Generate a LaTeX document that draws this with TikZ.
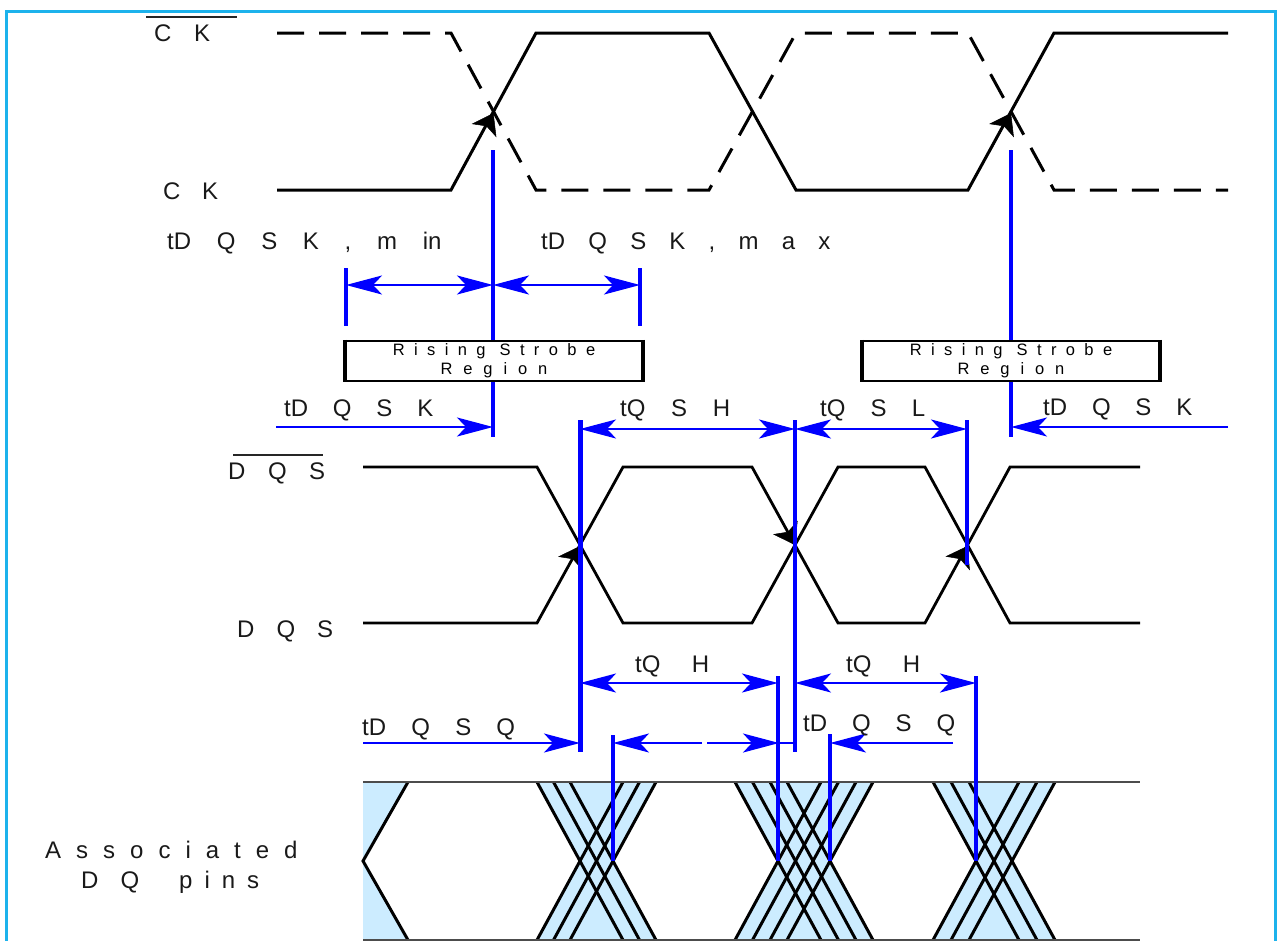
\documentclass[tikz,border=0pt]{standalone}
\usepackage{fontspec}
\setmainfont{Liberation Sans}
\usetikzlibrary{arrows.meta}
\definecolor{framecol}{RGB}{28,178,236}
\definecolor{dqfill}{RGB}{204,236,255}
\definecolor{mblue}{RGB}{0,0,255}
\newcommand{\lsp}[2]{{\spaceskip=#1pt\relax #2}}
\tikzset{
  lbl/.style={inner sep=0pt, anchor=base west, text=black!90, font=\fontsize{24}{28}\selectfont},
  sig/.style={line width=3pt, black, line join=miter, miter limit=10},
  sigdash/.style={sig, dash pattern=on 27pt off 15pt},
  bluebar/.style={mblue, line width=4pt},
  bluedim/.style={mblue, line width=2.3pt, {Stealth[length=36pt,width=19pt,inset=9pt]}-{Stealth[length=36pt,width=19pt,inset=9pt]}},
  blueto/.style={mblue, line width=2.3pt, -{Stealth[length=36pt,width=19pt,inset=9pt]}},
  edgetip/.style={black, line width=0.5pt, -{Stealth[length=20pt,width=28pt,inset=5pt]}},
  xline/.style={line width=3pt, black},
  rail/.style={line width=2.2pt, black!70},
  strobe/.style={draw=black, fill=white, line width=2.2pt, minimum width=296pt, minimum height=40pt, inner sep=0pt, align=center,
    font=\fontsize{16.5}{19}\selectfont},
}
\begin{document}
\begin{tikzpicture}[x=1pt,y=-1pt]
\useasboundingbox (0,0) rectangle (1279,940);
% frame
\draw[framecol, line width=3pt] (6,11) rectangle (1275,960);

% ---------------- CK ----------------
\draw[sig] (277,190) -- (451,190) -- (536,33) -- (709,33) -- (796,190) -- (968,190) -- (1054,33) -- (1228,33);
\draw[sigdash] (277,33) -- (451,33) -- (536,190) -- (709,190) -- (796,33) -- (968,33) -- (1054,190) -- (1228,190);
\coordinate (ckx1) at (493.5,113);
\coordinate (ckx3) at (1011,113);
\coordinate (cke1) at (472.5,152);
\coordinate (cke3) at (990,152);
\draw[edgetip] (cke1) -- (ckx1);
\draw[edgetip] (cke3) -- (ckx3);

% ---------------- DQS ----------------
\draw[sig, line width=2.8pt] (363,467) -- (537,467) -- (623,623) -- (752,623) -- (838,467) -- (925,467) -- (1010,623) -- (1140,623);
\draw[sig, line width=2.8pt] (363,623) -- (537,623) -- (623,467) -- (752,467) -- (838,623) -- (925,623) -- (1010,467) -- (1140,467);
\coordinate (dx1) at (580,546);
\coordinate (dx2) at (795,545);
\coordinate (dx3) at (967.5,546);
\coordinate (de1) at (559,584);
\coordinate (de2) at (773.5,506);
\coordinate (de3) at (946,584);
\draw[edgetip] (de1) -- (dx1);
\draw[edgetip] (de2) -- (dx2);
\draw[edgetip] (de3) -- (dx3);

% ---------------- DQ pins ----------------
\fill[dqfill] (363,782) rectangle (1140,940);
\fill[white] (408,782) -- (537,782) -- (580,861) -- (537,940) -- (408,940) -- (363,861) -- cycle;
\fill[white] (657,782) -- (735,782) -- (778,861) -- (735,940) -- (657,940) -- (613.5,861) -- cycle;
\fill[white] (873,782) -- (933,782) -- (976,861) -- (933,940) -- (873,940) -- (830,861) -- cycle;
\fill[white] (1055,782) -- (1140,782) -- (1140,940) -- (1055,940) -- (1012,861) -- cycle;
\draw[xline] (408,782) -- (363,861) -- (408,940);
\foreach \a in {537,553.5,570, 735,752.5,770,787, 933,951,969} {
  \draw[xline] (\a,782) -- (\a+86,940);
  \draw[xline] (\a,940) -- (\a+86,782);
}
\draw[rail] (363,782) -- (1140,782);
\draw[rail] (363,940) -- (1140,940);

% ---------------- blue timing ----------------
\coordinate (vA1) at (493,150); \coordinate (vA2) at (493,437);
\coordinate (vB1) at (1011,150); \coordinate (vB2) at (1011,437);
\draw[bluebar] (vA1) -- (vA2);
\draw[bluebar] (vB1) -- (vB2);
\coordinate (bL1) at (346,268); \coordinate (bL2) at (346,326);
\coordinate (bR1) at (640,268); \coordinate (bR2) at (640,326);
\draw[bluebar] (bL1) -- (bL2);
\draw[bluebar] (bR1) -- (bR2);
\coordinate (mnL) at (346,285); \coordinate (mnM) at (493,285); \coordinate (mxR) at (640,285);
\draw[bluedim] (mnL) -- (mnM);
\draw[bluedim] (mnM) -- (mxR);
\coordinate (kL) at (276,427); \coordinate (kLe) at (493,427);
\coordinate (kR) at (1228,427); \coordinate (kRe) at (1011,427);
\draw[blueto] (kL) -- (kLe);
\draw[blueto] (kR) -- (kRe);

\coordinate (v580a) at (580,420); \coordinate (v580b) at (580,752);
\coordinate (v795a) at (795,420); \coordinate (v795b) at (795,752);
\coordinate (v967a) at (967,420); \coordinate (v967b) at (967,565);
\draw[bluebar, line width=5pt] (v580a) -- (v580b);
\draw[bluebar, line width=3.5pt] (v795a) -- (v795b);
\draw[bluebar, line width=4.5pt] (v967a) -- (v967b);
\coordinate (sh1) at (580,429); \coordinate (sh2) at (795,429); \coordinate (sl2) at (967,429);
\draw[bluedim] (sh1) -- (sh2);
\draw[bluedim] (sh2) -- (sl2);

\coordinate (b778a) at (778,676); \coordinate (b778b) at (778,861);
\coordinate (b976a) at (976,676); \coordinate (b976b) at (976,861);
\coordinate (b613a) at (613,735); \coordinate (b613b) at (613,861);
\coordinate (b830a) at (830,734); \coordinate (b830b) at (830,861);
\draw[bluebar, line width=4.5pt] (b778a) -- (b778b);
\draw[bluebar, line width=4.5pt] (b976a) -- (b976b);
\draw[bluebar, line width=4.5pt] (b613a) -- (b613b);
\draw[bluebar, line width=4.5pt] (b830a) -- (b830b);
\coordinate (qh1a) at (580,683); \coordinate (qh1b) at (778,683);
\coordinate (qh2a) at (795,683); \coordinate (qh2b) at (976,683);
\draw[bluedim] (qh1a) -- (qh1b);
\draw[bluedim] (qh2a) -- (qh2b);
\coordinate (q1s) at (363,743); \coordinate (q1e) at (580,743);
\draw[blueto] (q1s) -- (q1e);
\coordinate (qmL) at (613,743); \coordinate (qmA) at (702,743);
\coordinate (qmB) at (707,743); \coordinate (qmR) at (779,743); \coordinate (qmE) at (795,743);
\draw[blueto] (qmA) -- (qmL);
\draw[blueto] (qmB) -- (qmR);
\draw[mblue, line width=2.3pt] (qmR) -- (qmE);
\coordinate (q2s) at (953,743); \coordinate (q2e) at (830,743);
\draw[blueto] (q2s) -- (q2e);

% ---------------- strobe boxes ----------------
\node[strobe] (box1) at (494,361) {{\addfontfeature{LetterSpace=57}Rising Strobe}\\{\addfontfeature{LetterSpace=66}Region}};
\node[strobe] (box2) at (1011,361) {{\addfontfeature{LetterSpace=57}Rising Strobe}\\{\addfontfeature{LetterSpace=66}Region}};
\draw[line width=4pt] (box1.north west) -- (box1.south west);
\draw[line width=4pt] (box1.north east) -- (box1.south east);
\draw[line width=4pt] (box2.north west) -- (box2.south west);
\draw[line width=4pt] (box2.north east) -- (box2.south east);

% ---------------- labels ----------------
\node[lbl] (lckb) at (154,41) {\lsp{22.7}{C K}};
\draw[line width=2pt, black!85] (146,17) -- (237,17);
\node[lbl] (lck) at (163,199) {\lsp{21.7}{C K}};
\node[lbl] (lmin) at (167,249) {\lsp{25.7}{tD Q S K , m in}};
\node[lbl] (lmax) at (541,249) {\lsp{23.2}{tD Q S K , m a x}};
\node[lbl] (ldqskL) at (284,416) {\lsp{24.8}{tD Q S K}};
\node[lbl] (ltqsh) at (620,416) {\lsp{25.7}{tQ S H}};
\node[lbl] (ltqsl) at (820,416) {\lsp{25.2}{tQ S L}};
\node[lbl] (ldqskR) at (1043,415) {\lsp{24.8}{tD Q S K}};
\node[lbl] (ldqsb) at (228,479) {\lsp{22.5}{D Q S}};
\draw[line width=2pt, black!85] (233,455) -- (323,455);
\node[lbl] (ldqs) at (237,637) {\lsp{22}{D Q S}};
\node[lbl] (ltqh1) at (635,672) {\lsp{31.3}{tQ H}};
\node[lbl] (ltqh2) at (846,672) {\lsp{31.3}{tQ H}};
\node[lbl] (ldqsq1) at (362,735) {\lsp{25.2}{tD Q S Q}};
\node[lbl] (ldqsq2) at (803,731) {\lsp{24.9}{tD Q S Q}};
\node[lbl] (lassoc) at (45,858) {\lsp{15}{A s s o c i a t e d}};
\node[lbl] (lpins) at (81,888) {\lsp{22}{D Q}\lsp{40}{ }\lsp{12}{p i n s}};
\end{tikzpicture}
\end{document}
